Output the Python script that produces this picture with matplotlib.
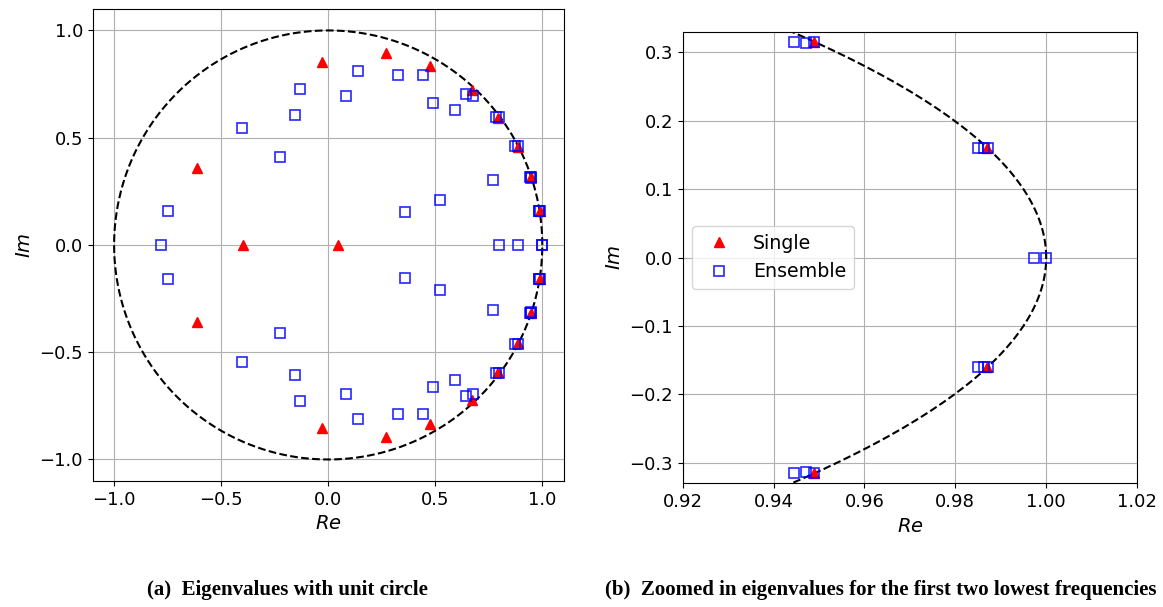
import numpy as np
import matplotlib.pyplot as plt

single_re = [-0.028, 0.268, 0.475, 0.673, 0.795, 0.887, 0.949, 0.987, -0.614,
             -0.398, 0.045,
             -0.028, 0.268, 0.475, 0.673, 0.795, 0.887, 0.949, 0.987, -0.614]
single_im = [0.855, 0.897, 0.835, 0.723, 0.592, 0.457, 0.315, 0.160, 0.360,
             0.0, 0.0,
             -0.855, -0.897, -0.835, -0.723, -0.592, -0.457, -0.315, -0.160, -0.360]

ensemble_re = [-0.131, -0.157, -0.402, -0.226, -0.749, 0.139, 0.084, 0.324, 0.441,
               0.489, 0.593, 0.643, 0.676, 0.784, 0.800, 0.871, 0.886,
               0.9444, 0.9471, 0.9490, 0.9849, 0.9864, 0.9873, 0.768, 0.520, 0.361,
               -0.782, 0.800, 0.885, 0.9974, 1.000,
               -0.131, -0.157, -0.402, -0.226, -0.749, 0.139, 0.084, 0.324, 0.441,
               0.489, 0.593, 0.643, 0.676, 0.784, 0.800, 0.871, 0.886,
               0.9444, 0.9471, 0.9490, 0.9849, 0.9864, 0.9873, 0.768, 0.520, 0.361]
ensemble_im = [0.728, 0.604, 0.547, 0.410, 0.160, 0.813, 0.694, 0.790, 0.790,
               0.664, 0.630, 0.705, 0.694, 0.596, 0.596, 0.460, 0.460,
               0.315, 0.314, 0.315, 0.160, 0.160, 0.160, 0.303, 0.210, 0.152,
               0.0, 0.0, 0.0, 0.0, 0.0,
               -0.728, -0.604, -0.547, -0.410, -0.160, -0.813, -0.694, -0.790, -0.790,
               -0.664, -0.630, -0.705, -0.694, -0.596, -0.596, -0.460, -0.460,
               -0.315, -0.314, -0.315, -0.160, -0.160, -0.160, -0.303, -0.210, -0.152]

left_ticks = [-1.0, -0.5, 0.0, 0.5, 1.0]
right_xticks = [0.92, 0.94, 0.96, 0.98, 1.00, 1.02]
right_yticks = [-0.3, -0.2, -0.1, 0.0, 0.1, 0.2, 0.3]

theta = np.linspace(0, 2 * np.pi, 1000)

fig = plt.figure(figsize=(11.63, 6.07), dpi=100)
ax1 = fig.add_axes([0.0797, 0.2077, 0.4050, 0.7775])
ax2 = fig.add_axes([0.5870, 0.2037, 0.3907, 0.7440])

for ax in (ax1, ax2):
    ax.plot(np.cos(theta), np.sin(theta), 'k--', lw=1.5)
    ax.plot(single_re, single_im, 'r^', ms=7, ls='none', label='Single')
    ax.plot(ensemble_re, ensemble_im, 's', ms=7, mfc='none', mec='b', mew=1.2,
            ls='none', label='Ensemble', alpha=0.85)
    ax.grid(True)
    ax.set_xlabel('$Re$', fontsize=14)
    ax.set_ylabel('$Im$', fontsize=14)
    ax.tick_params(labelsize=13)

ax1.set_xlim(-1.1, 1.1)
ax1.set_ylim(-1.1, 1.1)
ax1.set_xticks(left_ticks)
ax1.set_yticks(left_ticks)

ax2.set_xlim(0.92, 1.02)
ax2.set_ylim(-0.33, 0.33)
ax2.set_xticks(right_xticks)
ax2.set_yticks(right_yticks)
ax2.legend(loc='center left', fontsize=13.7)

fig.text(0.247, 0.028, '(a)  Eigenvalues with unit circle', ha='center', va='center',
         family='Liberation Serif', weight='bold', fontsize=15)
fig.text(0.757, 0.028, '(b)  Zoomed in eigenvalues for the first two lowest frequencies',
         ha='center', va='center', family='Liberation Serif', weight='bold', fontsize=15)

fig.savefig('out.png', dpi=100)
